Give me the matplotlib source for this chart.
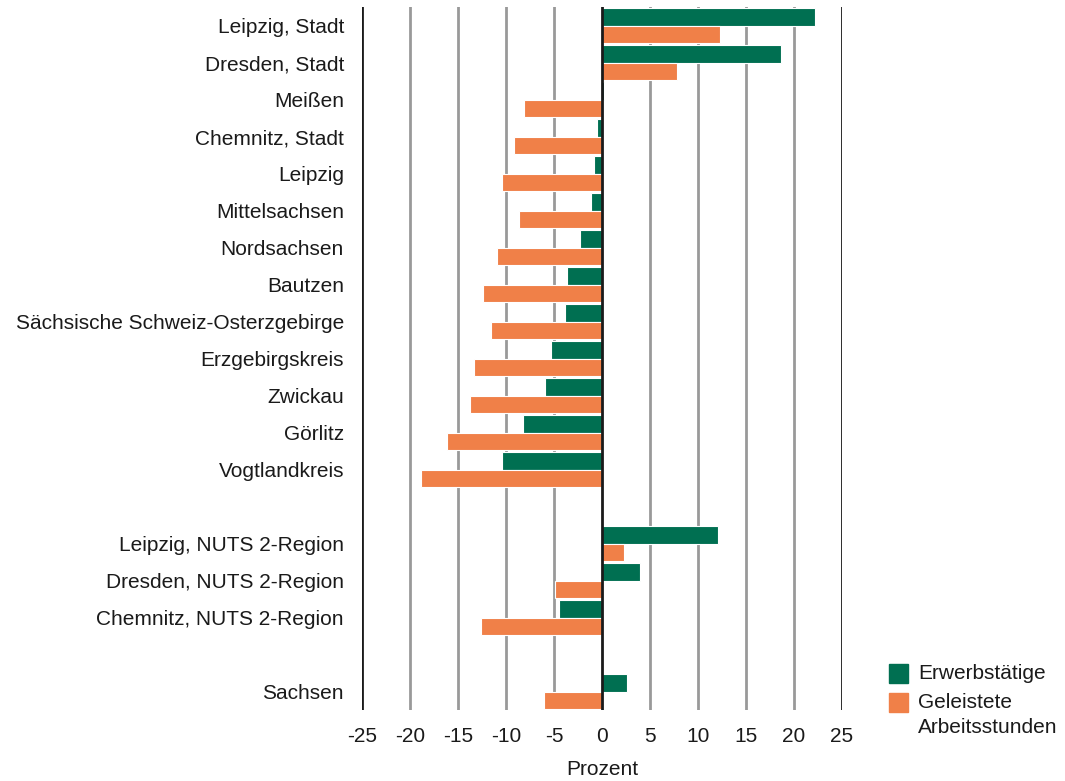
import matplotlib
matplotlib.use("Agg")
import matplotlib.pyplot as plt
from matplotlib.patches import Rectangle
import numpy as np

plt.rcParams['font.family'] = ['Liberation Sans', 'DejaVu Sans']

categories = ["Leipzig, Stadt", "Dresden, Stadt", "Meißen", "Chemnitz, Stadt", "Leipzig",
              "Mittelsachsen", "Nordsachsen", "Bautzen", "Sächsische Schweiz-Osterzgebirge",
              "Erzgebirgskreis", "Zwickau", "Görlitz", "Vogtlandkreis",
              "Leipzig, NUTS 2-Region", "Dresden, NUTS 2-Region", "Chemnitz, NUTS 2-Region",
              "Sachsen"]
positions = [0, 1, 2, 3, 4, 5, 6, 7, 8, 9, 10, 11, 12, 14, 15, 16, 18]
erwerbstaetige = [22.2, 18.6, 0.2, -0.5, -0.8, -1.1, -2.3, -3.6, -3.9, -5.3, -5.9, -8.2, -10.4,
                  12.1, 4.0, -4.5, 2.6]
arbeitsstunden = [12.3, 7.8, -8.1, -9.2, -10.4, -8.6, -10.9, -12.4, -11.6, -13.3, -13.8, -16.1, -18.9,
                  2.3, -4.9, -12.6, -6.0]
xticks = [-25, -20, -15, -10, -5, 0, 5, 10, 15, 20, 25]
series_labels = ["Erwerbstätige", "Geleistete\nArbeitsstunden"]

green = "#006F51"
orange = "#F08048"
text_color = "#1a1a1a"
FS = 15

W, H = 1065, 781
fig = plt.figure(figsize=(W/100, H/100), dpi=100)
ax = fig.add_axes([362/W, 1 - 710/H, 480/W, 703/H])

pos = np.array(positions, dtype=float)
h = 0.47
ax.barh(pos - h/2, erwerbstaetige, height=h, color=green, edgecolor="white", linewidth=0.8,
        zorder=3)
ax.barh(pos + h/2, arbeitsstunden, height=h, color=orange, edgecolor="white", linewidth=0.8,
        zorder=3)

for x in xticks:
    if x in (-25, 0, 25):
        ax.axvline(x, color=text_color, lw=2, zorder=4 if x == 0 else 2)
    else:
        ax.axvline(x, color="#999999", lw=2, zorder=1)

ax.set_xlim(-25, 25)
ax.set_ylim(18.5, -0.5)
ax.set_xticks(xticks)
ax.set_xticklabels([str(x) for x in xticks])
ax.set_yticks(positions)
ax.set_yticklabels(categories)
ax.tick_params(axis="both", length=0, labelsize=FS, labelcolor=text_color)
ax.tick_params(axis="y", pad=13)
ax.tick_params(axis="x", pad=12)
for s in ax.spines.values():
    s.set_visible(False)
ax.set_xlabel("Prozent", fontsize=FS, color=text_color, labelpad=10)

# legend drawn manually (square aligned with first text line)
sq = 19
for i, (lab, col) in enumerate(zip(series_labels, [green, orange])):
    top = 664 + i * 29
    fig.patches.append(Rectangle((889/W, 1 - (top + sq)/H), sq/W, sq/H,
                                 transform=fig.transFigure, color=col))
    fig.text(918/W, 1 - (top + sq/2)/H, lab.split("\n")[0], fontsize=FS, color=text_color,
             va="center", ha="left")
    for j, extra in enumerate(lab.split("\n")[1:]):
        fig.text(918/W, 1 - (top + sq/2 + 25*(j+1))/H, extra, fontsize=FS, color=text_color,
                 va="center", ha="left")

fig.savefig("out.png", dpi=100)
